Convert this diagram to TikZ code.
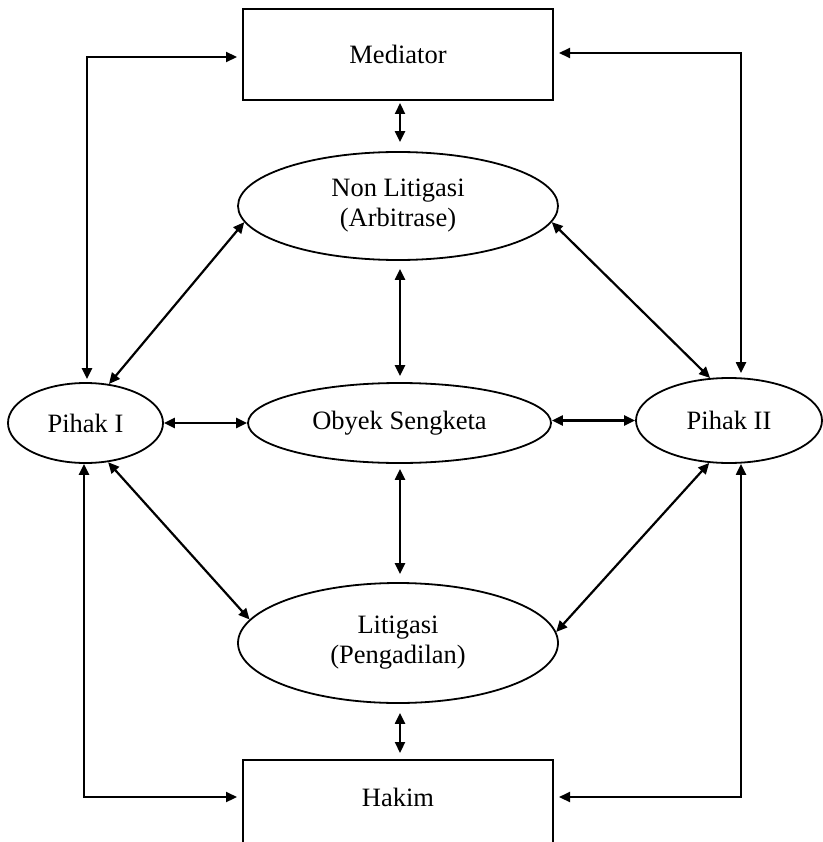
\documentclass[tikz,border=0pt]{standalone}
\usepackage{fontspec}
\setmainfont{Liberation Serif}
\usetikzlibrary{shapes.geometric,arrows.meta}
\begin{document}
\begin{tikzpicture}[x=1pt,y=-1pt,
  every node/.style={font=\fontsize{26.5}{30}\selectfont, inner sep=0pt, align=center},
  boxnode/.style={draw, line width=2pt, rectangle, minimum width=310pt},
  ellnode/.style={draw, line width=1.8pt, ellipse},
  dbl/.style={line width=2.2pt, {Triangle[length=11pt,width=10pt]}-{Triangle[length=11pt,width=10pt]}}
]
\useasboundingbox (0,0) rectangle (822,842);
% nodes
\node[boxnode, minimum height=91pt] (med) at (398,54.5) {Mediator};
\node[ellnode, minimum width=320pt, minimum height=108pt] (nonlit) at (398,206) {Non Litigasi\\(Arbitrase)};
\node[ellnode, minimum width=155pt, minimum height=80pt] (p1) at (85.5,423) {Pihak I};
\node[ellnode, minimum width=303pt, minimum height=80pt] (obj) at (399.5,423) {Obyek Sengketa};
\node[ellnode, minimum width=186pt, minimum height=85pt] (p2) at (729,420.5) {Pihak II};
\node[ellnode, minimum width=320pt, minimum height=120pt] (lit) at (398,643) {Litigasi\\(Pengadilan)};
\node[boxnode, minimum height=100pt, anchor=north] (hakim) at (398,759) {};
\node (hakimtext) at (398,797) {Hakim};
% vertical centre links
\draw[dbl] ([shift={(2,2)}]med.south) -- ([shift={(2,-9)}]nonlit.north);
\draw[dbl] ([shift={(2,8)}]nonlit.south) -- ([shift={(0.5,-6)}]obj.north);
\draw[dbl] ([shift={(0.5,5)}]obj.south) -- ([shift={(2,-8)}]lit.north);
\draw[dbl] ([shift={(2,9)}]lit.south) -- ([shift={(2,-6)}]hakim.north);
% horizontal links
\draw[dbl] (p1.east) -- (obj.west);
\draw[dbl] ([shift={(0,-2.5)}]obj.east) -- (p2.west);
% diagonals
\draw[dbl] (p1.59) -- (nonlit.186);
\draw[dbl] (p1.-60) -- (lit.171);
\draw[dbl] (p2.114) -- (nonlit.-6);
\draw[dbl] (p2.245) -- (lit.4);
% outer loops
\draw[dbl] ([shift={(-5,2.5)}]med.west) -| ([shift={(1.5,-3)}]p1.north);
\draw[dbl] ([shift={(5,-1.5)}]med.east) -| ([shift={(12,-4)}]p2.north);
\draw[dbl] ([shift={(-5,38)}]hakim.north west) -| ([shift={(-1.5,0)}]p1.south);
\draw[dbl] ([shift={(5,38)}]hakim.north east) -| ([shift={(12,0)}]p2.south);
\end{tikzpicture}
\end{document}
